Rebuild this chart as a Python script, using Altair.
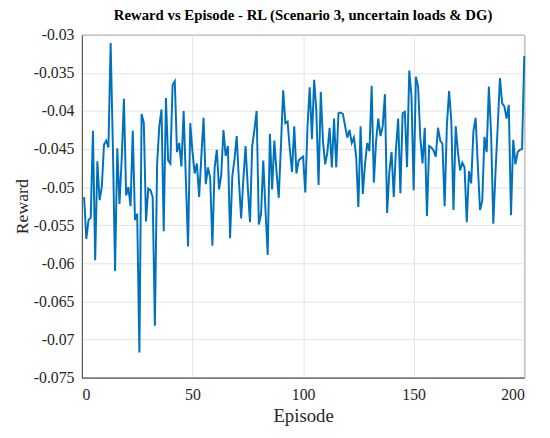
import altair as alt
import pandas as pd

episodes = list(range(1, 201))
rewards = [
    -0.0513, -0.0568, -0.0543, -0.0540, -0.0426, -0.0596, -0.0466, -0.0517, -0.0500, -0.0444,
    -0.0439, -0.0448, -0.0311, -0.0446, -0.0610, -0.0449, -0.0522, -0.0463, -0.0384, -0.0511,
    -0.0500, -0.0525, -0.0426, -0.0543, -0.0535, -0.0717, -0.0404, -0.0416, -0.0545, -0.0502,
    -0.0504, -0.0513, -0.0682, -0.0470, -0.0420, -0.0398, -0.0558, -0.0383, -0.0465, -0.0469,
    -0.0366, -0.0361, -0.0454, -0.0442, -0.0473, -0.0400, -0.0490, -0.0578, -0.0416, -0.0454,
    -0.0482, -0.0469, -0.0513, -0.0460, -0.0409, -0.0496, -0.0474, -0.0488, -0.0577, -0.0475,
    -0.0451, -0.0503, -0.0484, -0.0425, -0.0459, -0.0446, -0.0567, -0.0486, -0.0463, -0.0433,
    -0.0492, -0.0541, -0.0490, -0.0446, -0.0500, -0.0546, -0.0446, -0.0425, -0.0400, -0.0549,
    -0.0535, -0.0465, -0.0530, -0.0589, -0.0430, -0.0503, -0.0439, -0.0480, -0.0514, -0.0445,
    -0.0373, -0.0416, -0.0414, -0.0450, -0.0480, -0.0420, -0.0482, -0.0465, -0.0462, -0.0460,
    -0.0507, -0.0420, -0.0369, -0.0437, -0.0359, -0.0400, -0.0497, -0.0375, -0.0440, -0.0470,
    -0.0454, -0.0422, -0.0474, -0.0410, -0.0474, -0.0403, -0.0402, -0.0404, -0.0420, -0.0435,
    -0.0425, -0.0442, -0.0435, -0.0460, -0.0526, -0.0420, -0.0509, -0.0470, -0.0442, -0.0453,
    -0.0367, -0.0494, -0.0440, -0.0410, -0.0433, -0.0420, -0.0378, -0.0534, -0.0480, -0.0454,
    -0.0513, -0.0450, -0.0410, -0.0508, -0.0403, -0.0401, -0.0474, -0.0347, -0.0380, -0.0504,
    -0.0355, -0.0368, -0.0435, -0.0469, -0.0422, -0.0538, -0.0446, -0.0448, -0.0452, -0.0460,
    -0.0422, -0.0439, -0.0443, -0.0525, -0.0420, -0.0374, -0.0412, -0.0530, -0.0420, -0.0454,
    -0.0478, -0.0468, -0.0474, -0.0546, -0.0479, -0.0495, -0.0427, -0.0409, -0.0471, -0.0530,
    -0.0518, -0.0434, -0.0454, -0.0368, -0.0430, -0.0548, -0.0480, -0.0420, -0.0357, -0.0390,
    -0.0394, -0.0410, -0.0392, -0.0537, -0.0438, -0.0470, -0.0454, -0.0451, -0.0450, -0.0328,
]
x_ticks = [0, 50, 100, 150, 200]
y_ticks = [-0.075, -0.07, -0.065, -0.06, -0.055, -0.05, -0.045, -0.04, -0.035, -0.03]

df = pd.DataFrame({"Episode": episodes, "Reward": rewards})

FONT = "Liberation Serif"

chart = alt.Chart(df).mark_line(color="#0072BD", strokeWidth=2).encode(
    x=alt.X(
        "Episode:Q",
        scale=alt.Scale(domain=[0, 200], nice=False),
        axis=alt.Axis(
            values=x_ticks, format="d", title="Episode", ticks=False,
            labelFont=FONT, labelFontSize=16, titleFont=FONT, titleFontSize=19,
            labelPadding=9, titlePadding=5,
        ),
    ),
    y=alt.Y(
        "Reward:Q",
        scale=alt.Scale(domain=[-0.075, -0.03], nice=False, zero=False),
        axis=alt.Axis(
            values=y_ticks, title="Reward", ticks=False,
            labelFont=FONT, labelFontSize=16, titleFont=FONT, titleFontSize=18,
            labelExpr="replace(format(datum.value, '.3~f'), '\u2212', '-')",
            labelPadding=8, titlePadding=2,
        ),
    ),
).properties(
    width=449,
    height=348,
    background="white",
    title=alt.TitleParams(
        "Reward vs Episode - RL (Scenario 3, uncertain loads & DG)",
        font=FONT, fontSize=15, fontWeight="bold", color="#000000", offset=4,
    ),
    autosize=alt.AutoSizeParams(type="none"),
    padding={"left": 75, "top": 24, "right": 18, "bottom": 50},
).configure_axis(
    labelColor="#262626", titleFontWeight="normal", titleColor="#262626",
    gridColor="#e3e3e3", gridWidth=1,
    domainColor="#4d4d4d", domainWidth=1,
).configure_view(
    stroke="#4d4d4d", strokeWidth=1,
)

chart.save("out.html", embed_options={"renderer": "svg", "actions": False})
